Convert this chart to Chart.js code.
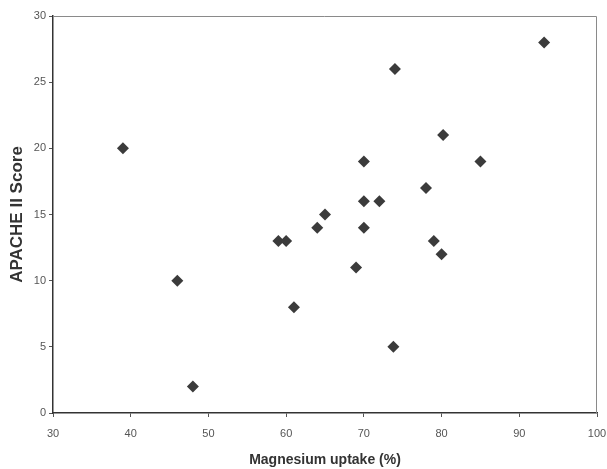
<!DOCTYPE html>
<html>
<head>
<meta charset="utf-8">
<script src="https://cdn.jsdelivr.net/npm/chart.js@4/dist/chart.umd.min.js"></script>
<style>
  html, body { margin: 0; padding: 0; background: #ffffff; }
  #wrap { width: 607px; height: 469px; position: relative; }
</style>
</head>
<body>
<div id="wrap"><canvas id="c"></canvas></div>
<script>
// Magnesium uptake (%) for each patient
const magnesiumUptake = [39, 46, 48, 61, 59, 60, 64, 65, 69, 70, 70, 70, 72, 74, 73.8, 78, 79, 80, 80.2, 85, 93.2];
// APACHE II score for each patient
const apacheScore     = [20, 10, 2, 8, 13, 13, 14, 15, 11, 19, 16, 14, 16, 26, 5, 17, 13, 12, 21, 19, 28];

const xTicks = [30, 40, 50, 60, 70, 80, 90, 100];
const yTicks = [0, 5, 10, 15, 20, 25, 30];

const points = magnesiumUptake.map((x, i) => ({ x: x, y: apacheScore[i] }));

const framePlugin = {
  id: 'frame',
  beforeDatasetsDraw(chart) {
    const { ctx, chartArea: a } = chart;
    ctx.save();
    ctx.strokeStyle = '#8a8a8a';
    ctx.lineWidth = 1;
    ctx.beginPath();
    ctx.moveTo(a.left, a.top + 0.5);
    ctx.lineTo(a.right - 0.5, a.top + 0.5);
    ctx.lineTo(a.right - 0.5, a.bottom);
    ctx.stroke();
    ctx.restore();
  }
};

new Chart(document.getElementById('c'), {
  type: 'scatter',
  data: {
    datasets: [{
      data: points,
      pointStyle: 'rectRot',
      pointRadius: 6,
      pointHoverRadius: 6,
      backgroundColor: '#3b3b3b',
      borderColor: '#3b3b3b',
      borderWidth: 0
    }]
  },
  options: {
    responsive: true,
    maintainAspectRatio: false,
    animation: false,
    layout: { padding: { top: 16, right: 10, left: 0, bottom: 0 } },
    plugins: { legend: { display: false }, tooltip: { enabled: false } },
    scales: {
      x: {
        type: 'linear',
        min: 30, max: 100,
        afterBuildTicks: (s) => { s.ticks = xTicks.map(v => ({ value: v })); },
        afterFit: (s) => { s.height = 56; s.paddingLeft = 0; s.paddingRight = 0; },
        grid: { display: true, drawOnChartArea: false, drawTicks: true, tickLength: 4, color: '#555' },
        border: { display: true, color: '#333', width: 1.5 },
        ticks: { color: '#555', font: { family: 'Liberation Sans', size: 11 }, padding: 10, maxRotation: 0 },
        title: { display: true, text: 'Magnesium uptake (%)', color: '#333',
                 font: { family: 'Liberation Sans', size: 14, weight: 'bold' }, padding: { top: 0, bottom: 0 } }
      },
      y: {
        type: 'linear',
        min: 0, max: 30,
        afterBuildTicks: (s) => { s.ticks = yTicks.map(v => ({ value: v })); },
        afterFit: (s) => { s.width = 53; s.paddingTop = 0; s.paddingBottom = 0; },
        grid: { display: true, drawOnChartArea: false, drawTicks: true, tickLength: 4, color: '#555' },
        border: { display: true, color: '#333', width: 1.5 },
        ticks: { color: '#555', font: { family: 'Liberation Sans', size: 11 }, padding: 3 },
        title: { display: true, text: 'APACHE II Score', color: '#333',
                 font: { family: 'Liberation Sans', size: 17, weight: 'bold' }, padding: { top: 7, bottom: 0 } }
      }
    }
  },
  plugins: [framePlugin]
});
</script>
</body>
</html>
